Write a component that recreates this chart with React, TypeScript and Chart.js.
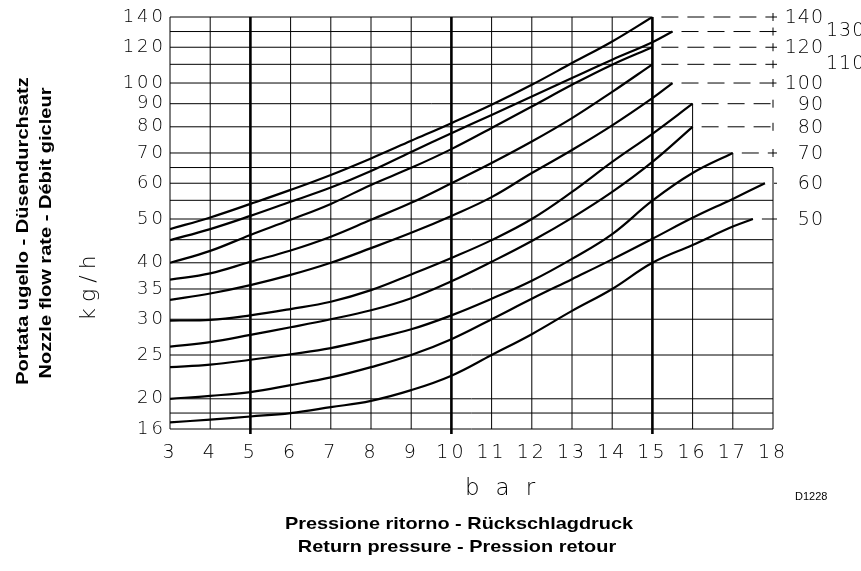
import React, { useEffect, useRef } from 'react';
import { Chart, registerables, LogarithmicScale } from 'chart.js';

Chart.register(...registerables);

// ---------- data ----------
const PRESSURE_BAR = [3, 4, 5, 6, 7, 8, 9, 10, 11, 12, 13, 14, 15, 16, 17];
const PRESSURE_TICKS = [3, 4, 5, 6, 7, 8, 9, 10, 11, 12, 13, 14, 15, 16, 17, 18];
const NOMINAL_KGH = [140, 130, 120, 110, 100, 90, 80, 70, 60, 50];
const END_PRESSURE = [15, 15.5, 15, 15, 15.5, 16, 16, 17, 17.8, 17.5];

const FLOW_140 = [47.5, 50.4, 54.0, 58.0, 62.6, 68.1, 74.5, 81.5, 89.5, 99.1, 110.7, 123.6];
const FLOW_130 = [44.9, 47.5, 50.8, 54.6, 58.7, 63.9, 70.4, 77.4, 85.0, 93.4, 102.6, 112.6, 123.1];
const FLOW_120 = [40.0, 42.5, 46.1, 49.8, 54.0, 59.5, 64.9, 71.4, 79.5, 88.7, 99.1, 109.8];
const FLOW_110 = [36.7, 37.9, 40.2, 42.6, 45.7, 49.8, 54.3, 60.0, 66.5, 74.2, 83.6, 95.6];
const FLOW_100 = [33.1, 34.2, 35.7, 37.6, 40.0, 43.1, 46.6, 50.8, 55.9, 63.2, 71.1, 80.6, 92.6];
const FLOW_90 = [29.8, 29.9, 30.6, 31.6, 32.8, 34.8, 37.7, 41.0, 44.9, 50.0, 57.4, 66.9, 77.2];
const FLOW_80 = [26.1, 26.7, 27.7, 28.8, 30.0, 31.4, 33.4, 36.4, 40.2, 44.7, 50.3, 57.4, 66.9];
const FLOW_70 = [23.5, 23.8, 24.4, 25.1, 25.9, 27.1, 28.5, 30.6, 33.3, 36.5, 40.8, 46.3, 54.9, 63.2];
const FLOW_60 = [20.0, 20.3, 20.7, 21.45, 22.3, 23.5, 25.0, 27.1, 30.0, 33.3, 36.8, 40.7, 45.2, 50.3, 55.4];
const FLOW_50 = [16.8, 17.15, 17.55, 18.0, 18.8, 19.7, 20.9, 22.5, 25.0, 27.8, 31.3, 35.0, 40.0, 43.8, 48.1];
const FLOW_CURVES = [FLOW_140, FLOW_130, FLOW_120, FLOW_110, FLOW_100, FLOW_90, FLOW_80, FLOW_70, FLOW_60, FLOW_50];

const FLOW_GRID = [16, 18, 20, 25, 30, 35, 40, 45, 50, 55, 60, 65, 70, 80, 90, 100, 110, 120, 130, 140];
const FLOW_LABELS = [16, 20, 25, 30, 35, 40, 50, 60, 70, 80, 90, 100, 120, 140];
// top of each vertical grid line (per PRESSURE_TICKS)
const GRID_COLUMN_TOP = [140, 140, 140, 140, 140, 140, 140, 140, 140, 140, 140, 140, 140, 90, 70, 65];
const RIGHT_LABEL_STAGGERED = [130, 110];

// ---------- y scale: log above 20 kg/h, compressed below ----------
const KINK_AT = 20;
const LOW_COMPRESSION = 0.69;
const warp = (v: number) =>
  v >= KINK_AT ? Math.log(v) : Math.log(KINK_AT) - LOW_COMPRESSION * (Math.log(KINK_AT) - Math.log(v));
const unwarp = (w: number) =>
  w >= Math.log(KINK_AT) ? Math.exp(w) : Math.exp(Math.log(KINK_AT) - (Math.log(KINK_AT) - w) / LOW_COMPRESSION);

class KinkedLogScale extends (LogarithmicScale as any) {
  static id = 'kinkedLog';
  buildTicks() {
    (this as any).start = (this as any).min;
    (this as any).end = (this as any).max;
    return FLOW_GRID.filter((v) => v >= (this as any).min && v <= (this as any).max).map((v) => ({ value: v }));
  }
  configure() {
    super.configure();
    (this as any)._startValue = warp((this as any).min);
    (this as any)._valueRange = warp((this as any).max) - warp((this as any).min);
  }
  getPixelForValue(value: number) {
    if (value === undefined || value === null || isNaN(value)) return NaN;
    return (this as any).getPixelForDecimal((warp(value) - (this as any)._startValue) / (this as any)._valueRange);
  }
  getValueForPixel(pixel: number) {
    const d = (this as any).getDecimalForPixel(pixel);
    return unwarp((this as any)._startValue + d * (this as any)._valueRange);
  }
}
Chart.register(KinkedLogScale as any);

// ---------- helpers ----------
const THIN = "'DejaVu Sans'";
const BOLD = "'Liberation Sans', Arial, sans-serif";

function drawText(ctx: any, text: string, x: number, y: number, o: any) {
  ctx.save();
  ctx.translate(x, y);
  if (o.rot) ctx.rotate(o.rot);
  if (o.sx) ctx.scale(o.sx, 1);
  ctx.font = o.font;
  ctx.letterSpacing = (o.ls || 0) + 'px';
  ctx.textAlign = o.align || 'left';
  ctx.textBaseline = o.baseline || 'alphabetic';
  ctx.fillStyle = '#000';
  ctx.fillText(text, 0, 0);
  ctx.restore();
}

const nomogramPlugin = {
  id: 'nomogram',
  beforeDraw(chart: any) {
    chart.ctx.letterSpacing = '3px';
  },
  beforeDatasetsDraw(chart: any) {
    const { ctx } = chart;
    const xs = chart.scales.x;
    const ys = chart.scales.y;
    ctx.save();
    ctx.letterSpacing = '0px';
    ctx.strokeStyle = '#000';
    const yBottom = ys.getPixelForValue(16);
    // vertical grid
    PRESSURE_TICKS.forEach((p, i) => {
      const px = xs.getPixelForValue(p);
      ctx.lineWidth = p % 5 === 0 ? 2.6 : 1;
      ctx.beginPath();
      ctx.moveTo(px, yBottom + (p % 5 === 0 ? 5 : 0));
      ctx.lineTo(px, ys.getPixelForValue(GRID_COLUMN_TOP[i]));
      ctx.stroke();
    });
    // horizontal grid
    ctx.lineWidth = 1;
    const x18 = xs.getPixelForValue(18);
    FLOW_GRID.forEach((v) => {
      const py = ys.getPixelForValue(v);
      const k = NOMINAL_KGH.indexOf(v);
      let solidEnd = 3;
      if (k >= 0) solidEnd = END_PRESSURE[k];
      else PRESSURE_TICKS.forEach((p, i) => { if (GRID_COLUMN_TOP[i] >= v) solidEnd = p; });
      ctx.setLineDash([]);
      ctx.beginPath();
      ctx.moveTo(xs.getPixelForValue(3), py);
      ctx.lineTo(xs.getPixelForValue(solidEnd), py);
      ctx.stroke();
      if (k >= 0 && solidEnd < 18) {
        ctx.setLineDash([17, 9]);
        ctx.lineDashOffset = 17;
        ctx.beginPath();
        ctx.moveTo(xs.getPixelForValue(solidEnd), py);
        ctx.lineTo(x18 + 4, py);
        ctx.stroke();
        ctx.setLineDash([]);
        if (v > 65) {
          ctx.beginPath();
          ctx.moveTo(x18, py - 4);
          ctx.lineTo(x18, py + 4);
          ctx.stroke();
        }
      }
    });
    ctx.restore();
  },
  afterDraw(chart: any) {
    const { ctx } = chart;
    const ys = chart.scales.y;
    ctx.letterSpacing = '0px';
    // right-hand nominal flow labels
    NOMINAL_KGH.forEach((v) => {
      const py = ys.getPixelForValue(v);
      if (RIGHT_LABEL_STAGGERED.includes(v)) {
        drawText(ctx, String(v), 826, py, { font: `200 19px ${THIN}`, ls: 1, align: 'left', baseline: 'middle' });
      } else {
        drawText(ctx, String(v), 824, py + 1, { font: `200 19px ${THIN}`, ls: 1, align: 'right', baseline: 'middle' });
      }
    });
    // units
    drawText(ctx, 'bar', 465, 495, { font: `200 23px ${THIN}`, ls: 16 });
    drawText(ctx, 'kg/h', 95, 285, { font: `200 22px ${THIN}`, ls: 6, align: 'center', rot: -Math.PI / 2 });
    // axis titles
    drawText(ctx, 'Portata ugello - Düsendurchsatz', 27.5, 231, { font: `bold 17px ${BOLD}`, align: 'center', rot: -Math.PI / 2, sx: 1.18 });
    drawText(ctx, 'Nozzle flow rate - Débit gicleur', 50.5, 233, { font: `bold 17px ${BOLD}`, align: 'center', rot: -Math.PI / 2, sx: 1.18 });
    drawText(ctx, 'Pressione ritorno - Rückschlagdruck', 459, 529, { font: `bold 17px ${BOLD}`, align: 'center', sx: 1.17 });
    drawText(ctx, 'Return pressure - Pression retour', 457, 552, { font: `bold 17px ${BOLD}`, align: 'center', sx: 1.17 });
    drawText(ctx, 'D1228', 795, 500, { font: `11px ${BOLD}` });
  },
};

export default function App() {
  const canvasRef = useRef<HTMLCanvasElement | null>(null);

  useEffect(() => {
    const canvas = canvasRef.current;
    if (!canvas) return;
    const datasets = FLOW_CURVES.map((values, k) => ({
      label: `${NOMINAL_KGH[k]} kg/h`,
      data: [
        ...values.map((v, i) => ({ x: PRESSURE_BAR[i], y: v })),
        { x: END_PRESSURE[k], y: NOMINAL_KGH[k] },
      ],
      borderColor: '#000',
      backgroundColor: '#000',
      borderWidth: 2.2,
      pointRadius: 0,
      fill: false,
      tension: 0.4,
    }));

    const chart = new Chart(canvas, {
      type: 'line',
      data: { datasets },
      plugins: [nomogramPlugin as any],
      options: {
        responsive: false,
        animation: false,
        devicePixelRatio: 1,
        layout: { padding: { left: 0, top: 17, right: 88, bottom: 0 } },
        plugins: { legend: { display: false }, tooltip: { enabled: false }, title: { display: false } },
        scales: {
          x: {
            type: 'linear',
            min: 3,
            max: 18,
            grid: { display: false, drawTicks: false },
            border: { display: false },
            afterBuildTicks: (s: any) => { s.ticks = PRESSURE_TICKS.map((v) => ({ value: v })); },
            ticks: {
              autoSkip: false,
              maxRotation: 0,
              color: '#000',
              padding: 13,
              font: { family: THIN, size: 19, weight: '200' as any },
              callback: (v: any) => String(v),
            },
            afterFit: (s: any) => { s.height = 142; },
          },
          y: {
            type: 'kinkedLog' as any,
            min: 16,
            max: 140,
            grid: { display: false, drawTicks: false },
            border: { display: false },
            ticks: {
              autoSkip: false,
              color: '#000',
              padding: 4,
              font: { family: THIN, size: 18, weight: '200' as any },
              callback: (v: any) => (FLOW_LABELS.includes(Number(v)) ? String(v) : ''),
            },
            afterFit: (s: any) => { s.width = 170; },
          },
        },
      } as any,
    });
    return () => chart.destroy();
  }, []);

  return (
    <div style={{ position: 'fixed', left: 0, top: 0, width: 861, height: 571, background: '#fff' }}>
      <canvas ref={canvasRef} width={861} height={571} style={{ display: 'block' }} />
    </div>
  );
}
